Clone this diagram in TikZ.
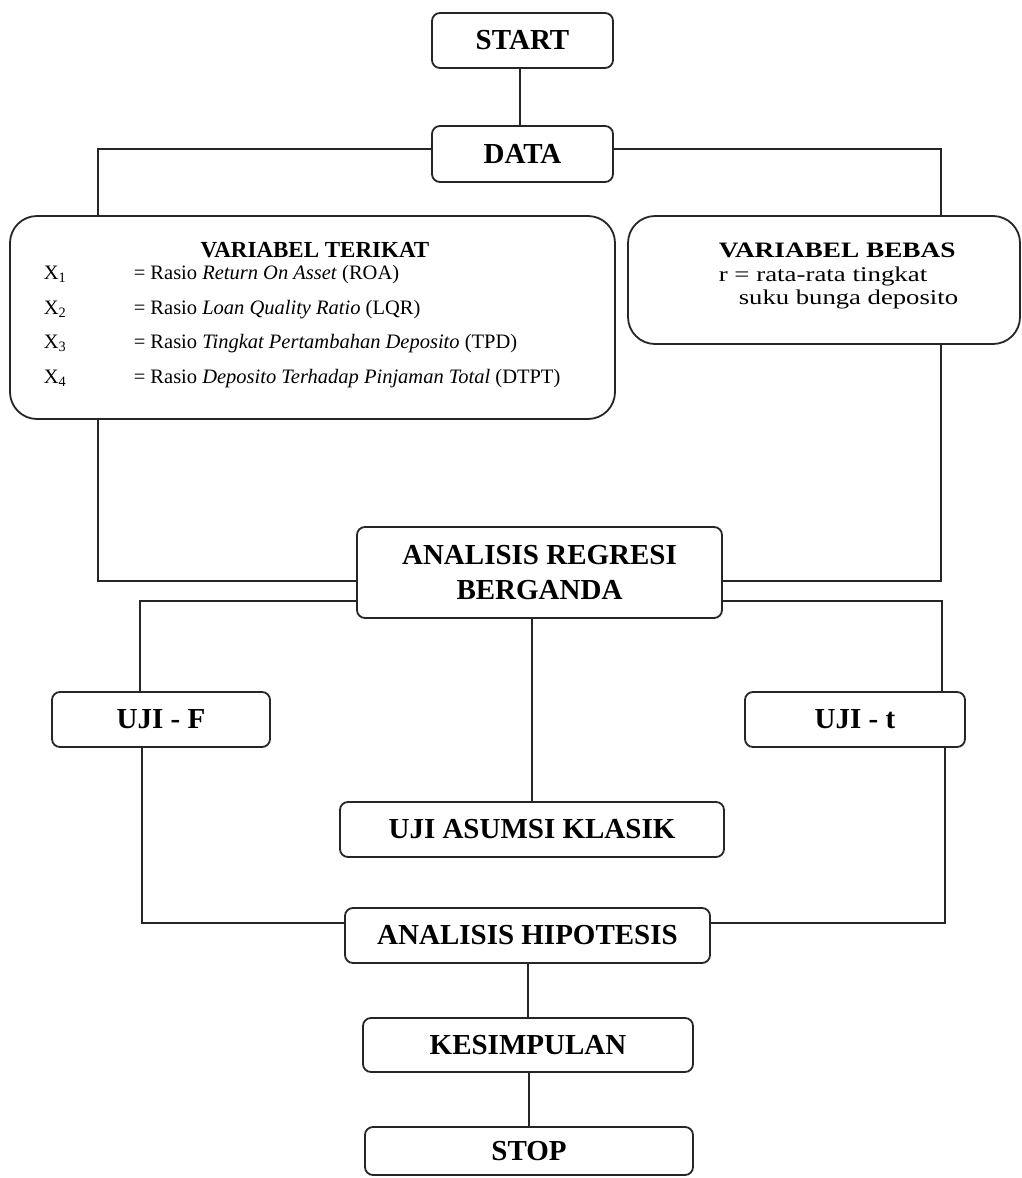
\documentclass[tikz,border=0pt]{standalone}
\usepackage{fontspec}
\usepackage{graphicx}
\setmainfont{Liberation Serif}
\begin{document}
\begin{tikzpicture}[x=1pt,y=-1pt,
  line width=1.6pt,
  box/.style={draw=black!85, rounded corners=8pt, line width=1.8pt, inner sep=0pt,
    font=\fontsize{29}{33}\selectfont\bfseries, align=center},
  bigbox/.style={draw=black!85, rounded corners=27pt, line width=1.8pt, inner sep=0pt},
  conn/.style={draw=black!85, line width=1.6pt},
  itemtxt/.style={font=\fontsize{20.5}{22}\selectfont, anchor=base west, inner sep=0pt},
  vbtxt/.style={font=\fontsize{21}{23}\selectfont, anchor=base west, inner sep=0pt}]
\useasboundingbox[fill=white] (0,0) rectangle (1022,1178);

% boxes
\node[box, minimum width=181pt, minimum height=55pt] (start) at (522.5,40.5) {START};
\node[box, minimum width=181pt, minimum height=56pt] (data) at (522.5,154) {DATA};
\node[bigbox, minimum width=605pt, minimum height=203pt] (vt) at (312.5,317.5) {};
\node[bigbox, minimum width=392pt, minimum height=128pt] (vb) at (824,280) {};
\node[box, minimum width=365pt, minimum height=91pt] (arb) at (539.5,572.5) {ANALISIS REGRESI\\[2pt]BERGANDA};
\node[box, minimum width=218pt, minimum height=55pt] (ujif) at (161,719.5) {UJI - F};
\node[box, minimum width=220pt, minimum height=55pt] (ujit) at (855,719.5) {UJI - t};
\node[box, minimum width=384pt, minimum height=55pt] (uak) at (532,829.5) {UJI ASUMSI KLASIK};
\node[box, minimum width=365pt, minimum height=55pt] (ah) at (527.5,935.5) {ANALISIS HIPOTESIS};
\node[box, minimum width=330pt, minimum height=54pt] (kes) at (528,1045) {KESIMPULAN};
\node[box, minimum width=328pt, minimum height=48pt] (stop) at (529,1151) {STOP};

% texts of VARIABEL TERIKAT
\node[font=\fontsize{23}{25}\selectfont\bfseries, anchor=base, inner sep=0pt] (vth) at (315,257) {VARIABEL TERIKAT};
\node[itemtxt] (vx1) at (43,279) {X\textsubscript{1}};
\node[itemtxt] (vx2) at (43,314) {X\textsubscript{2}};
\node[itemtxt] (vx3) at (43,348) {X\textsubscript{3}};
\node[itemtxt] (vx4) at (43,383) {X\textsubscript{4}};
\node[itemtxt] (vi1) at (133,279) {= Rasio \textit{Return On Asset} (ROA)};
\node[itemtxt] (vi2) at (133,314) {= Rasio \textit{Loan Quality Ratio} (LQR)};
\node[itemtxt] (vi3) at (133,348) {= Rasio \textit{Tingkat Pertambahan Deposito} (TPD)};
\node[itemtxt] (vi4) at (133,383) {= Rasio \textit{Deposito Terhadap Pinjaman Total} (DTPT)};

% texts of VARIABEL BEBAS
\node[font=\fontsize{22}{24}\selectfont\bfseries, anchor=base west, inner sep=0pt] (vbh) at (718,257) {\scalebox{1.24}[1]{VARIABEL BEBAS}};
\node[vbtxt] (vb1) at (718,281) {\scalebox{1.28}[1]{r = rata-rata tingkat}};
\node[vbtxt] (vb2) at (738,304) {\scalebox{1.27}[1]{suku bunga deposito}};

% helper coordinates for connector columns
\coordinate (cT) at (520,0);
\coordinate (cL1) at (98,0);
\coordinate (cR1) at (941,0);
\coordinate (cL2) at (140,0);
\coordinate (cR2) at (942,0);
\coordinate (cL3) at (142,0);
\coordinate (cR3) at (945,0);

% connectors
\draw[conn] (cT |- start.south) -- (cT |- data.north);
\draw[conn] ([yshift=5pt]data.west) -| (cL1 |- vt.north);
\draw[conn] ([yshift=5pt]data.east) -| (cR1 |- vb.north);
\draw[conn] (cL1 |- vt.south) |- ([yshift=-8.5pt]arb.west);
\draw[conn] (cR1 |- vb.south) |- ([yshift=-8.5pt]arb.east);
\draw[conn] ([yshift=-28.5pt]arb.west) -| (cL2 |- ujif.north);
\draw[conn] ([yshift=-28.5pt]arb.east) -| (cR2 |- ujit.north);
\draw[conn] (uak.north |- arb.south) -- (uak.north);
\draw[conn] (cL3 |- ujif.south) |- ([yshift=12.5pt]ah.west);
\draw[conn] (cR3 |- ujit.south) |- ([yshift=12.5pt]ah.east);
\draw[conn] (kes.north |- ah.south) -- (kes.north);
\draw[conn] (stop.north |- kes.south) -- (stop.north);
\end{tikzpicture}
\end{document}
